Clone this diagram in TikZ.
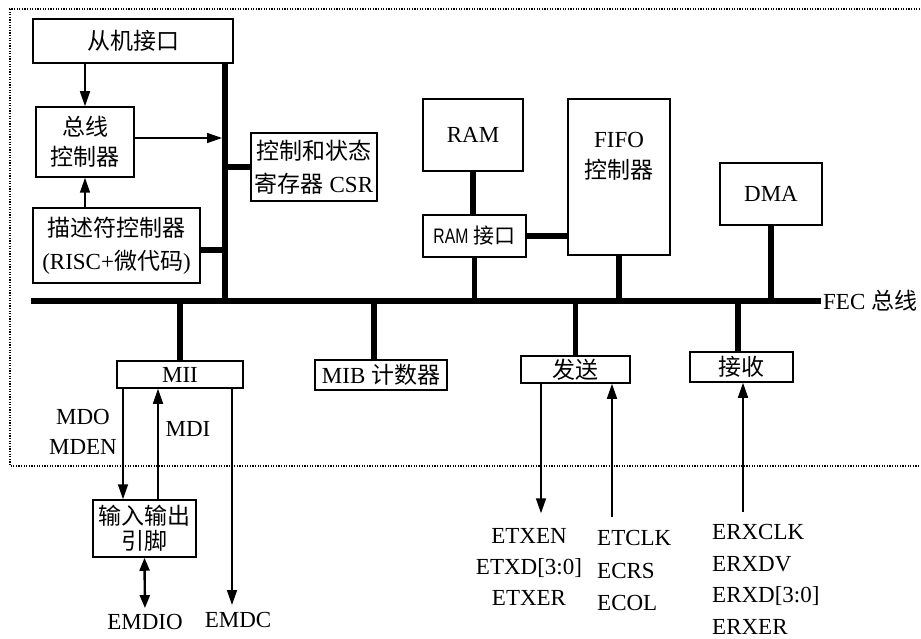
\documentclass[tikz,border=0pt]{standalone}
\usepackage{fontspec}
\setmainfont{Liberation Serif}
\newfontfamily\cjk{Noto Sans CJK SC}
\newfontfamily\narrowsans[FakeStretch=0.75]{Liberation Sans}
\usetikzlibrary{arrows.meta}
\begin{document}
\begin{tikzpicture}[x=1pt,y=-1pt,
  every node/.style={font=\fontsize{23}{30}\selectfont},
  box/.style={draw, line width=1.5pt, inner sep=2pt, align=center},
  cjkf/.style={font=\fontsize{23}{30}\selectfont\cjk},
  thinline/.style={line width=1.5pt},
  arr/.style={thinline, -{Triangle[length=15pt,width=10pt]}},
  darr/.style={line width=2.4pt, {Triangle[length=13pt,width=10pt]}-{Triangle[length=13pt,width=10pt]}},
  bus/.style={line width=6pt},
  stub/.style={line width=5.5pt},
  border/.style={line width=1.2pt, dash pattern=on 1.2pt off 1.4pt},
  lbl/.style={inner sep=0pt}
]
\useasboundingbox (0,0) rectangle (921,639);
% dotted enclosure
\draw[border] (920,9) -- (10,9) -- (10,466) -- (920,466);

% boxes
\node[box, cjkf, minimum width=200pt, minimum height=44pt] (slave) at (133,41) {从机接口};
\node[box, cjkf, minimum width=98pt, minimum height=70pt] (busctl) at (85,142) {总线\\控制器};
\node[box, minimum width=167pt, minimum height=75pt, font=\fontsize{23}{33}\selectfont] (desc) at (116.5,245.5) {{\cjk 描述符控制器}\\(RISC+{\cjk 微代码})};
\node[box, minimum width=126pt, minimum height=68pt, font=\fontsize{23}{33}\selectfont] (csr) at (314,167) {{\cjk 控制和状态}\\{\cjk 寄存器} CSR};
\node[box, minimum width=100pt, minimum height=72pt] (ram) at (473,135) {RAM};
\node[box, minimum width=103pt, minimum height=42pt, font=\fontsize{21}{26}\selectfont] (ramif) at (474.5,236) {{\narrowsans RAM} {\cjk 接口}};
\node[box, minimum width=102pt, minimum height=156pt] (fifo) at (619,177) {};
\node[lbl, anchor=north, align=center, font=\fontsize{23}{31}\selectfont] (fifotxt) at ([yshift=-34pt]fifo.north) {FIFO\\{\cjk 控制器}};
\node[box, minimum width=102pt, minimum height=62pt] (dma) at (771,194) {DMA};
\node[box, minimum width=126pt, minimum height=27pt] (mii) at (180,374.5) {MII};
\node[box, minimum width=132pt, minimum height=30pt] (mib) at (381,375) {MIB {\cjk 计数器}};
\node[box, minimum width=103pt, minimum height=57pt, font=\fontsize{23}{25}\selectfont\cjk] (io) at (144.5,528.5) {输入输出\\引脚};
\node[box, cjkf, minimum width=109pt, minimum height=27pt] (tx) at (575.5,369.5) {发送};
\node[box, cjkf, minimum width=103pt, minimum height=30pt] (rx) at (741.5,367) {接收};

% bus
\coordinate (barx) at (225,0);
\coordinate (busL) at (31,301);
\coordinate (busR) at (821,301);
\draw[bus] (busL) -- (busR);
\node[lbl, anchor=west] (feclbl) at ([xshift=2pt]busR) {FEC {\cjk 总线}};
\draw[stub] (slave.south -| barx) -- (busL -| barx);
\draw[stub] (csr.west) -- (csr.west -| barx);
\draw[stub] ([yshift=-4.5pt]desc.east) -- ([yshift=-4.5pt]desc.east -| barx);
\draw[arr] (busctl.north |- slave.south) -- (busctl.north);
\draw[arr] (busctl.south |- desc.north) -- (busctl.south);
\draw[arr, shorten >=3pt] ([yshift=4pt]busctl.east) -- ([yshift=4pt]busctl.east -| barx);

\draw[stub] (ram.south) -- (ramif.north -| ram.south);
\draw[stub] (ramif.south) -- (ramif.south |- busL);
\draw[stub] (ramif.east) -- (ramif.east -| fifo.west);
\draw[stub] (fifo.south) -- (fifo.south |- busL);
\draw[stub] (dma.south) -- (dma.south |- busL);
\draw[stub] (mii.north) -- (mii.north |- busL);
\draw[stub] ([xshift=-7pt]mib.north) -- ([xshift=-7pt]mib.north |- busL);
\draw[stub] (tx.north) -- (tx.north |- busL);
\draw[stub] ([xshift=-3.5pt]rx.north) -- ([xshift=-3.5pt]rx.north |- busL);

% MII side
\coordinate (xmdo) at (123,0);
\coordinate (xmdi) at (158,0);
\coordinate (emdcend) at (232,605);
\draw[arr] (mii.south -| xmdo) -- (io.north -| xmdo);
\draw[arr] (io.north -| xmdi) -- (mii.south -| xmdi);
\draw[arr] (mii.south -| emdcend) -- (emdcend);
\node[lbl] (emdc) at (238,620) {EMDC};
\node[lbl] (emdio) at (145,622) {EMDIO};
\draw[darr, shorten >=6pt] (io.south) -- (emdio.north);
\node[lbl, align=center] (mdo) at (83,432) {MDO\\MDEN};
\node[lbl] (mdi) at (188,429) {MDI};

% transmit / receive
\coordinate (xetxen) at (541,0);
\coordinate (xetclk) at (612,0);
\coordinate (xerx) at (743,0);
\node[lbl, align=center, font=\fontsize{23}{31}\selectfont] (txout) at (529,567) {ETXEN\\ETXD[3:0]\\ETXER};
\node[lbl, align=left, anchor=west, font=\fontsize{23}{32.5}\selectfont] (txin) at (597,570.5) {ETCLK\\ECRS\\ECOL};
\node[lbl, align=left, anchor=west, font=\fontsize{23}{31.7}\selectfont] (rxin) at (712,579.5) {ERXCLK\\ERXDV\\ERXD[3:0]\\ERXER};
\draw[arr, shorten >=15pt] (tx.south -| xetxen) -- (txout.north -| xetxen);
\draw[arr, shorten <=13pt] (txin.north -| xetclk) -- (tx.south -| xetclk);
\draw[arr, shorten <=12pt] (rxin.north -| xerx) -- (rx.south -| xerx);
\end{tikzpicture}
\end{document}
